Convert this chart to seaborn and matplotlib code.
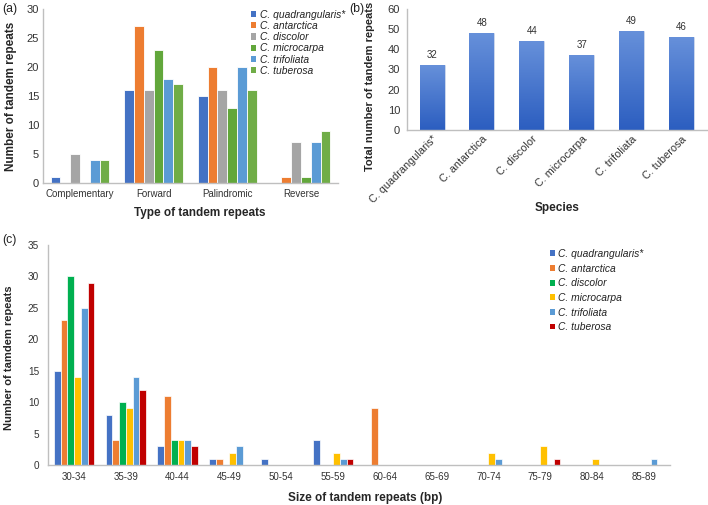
import pandas as pd
import numpy as np
import matplotlib
matplotlib.use('Agg')
import matplotlib.pyplot as plt
import seaborn as sns
from matplotlib.patches import Patch
from matplotlib.colors import LinearSegmentedColormap

# species names (same order in every panel)
species = ['C. quadrangularis*', 'C. antarctica', 'C. discolor',
           'C. microcarpa', 'C. trifoliata', 'C. tuberosa']

# panel (a): counts per repeat type, one value per species
repeat_types = ['Complementary', 'Forward', 'Palindromic', 'Reverse']
complementary = [1, 0, 5, 0, 4, 4]
forward = [16, 27, 16, 23, 18, 17]
palindromic = [15, 20, 16, 13, 20, 16]
reverse = [0, 1, 7, 1, 7, 9]

# panel (b): total repeats per species
totals = [32, 48, 44, 37, 49, 46]

# panel (c): counts per size class, one list per species
size_bins = ['30-34', '35-39', '40-44', '45-49', '50-54', '55-59',
             '60-64', '65-69', '70-74', '75-79', '80-84', '85-89']
quadrangularis_sizes = [15, 8, 3, 1, 1, 4, 0, 0, 0, 0, 0, 0]
antarctica_sizes = [23, 4, 11, 1, 0, 0, 9, 0, 0, 0, 0, 0]
discolor_sizes = [30, 10, 4, 0, 0, 0, 0, 0, 0, 0, 0, 0]
microcarpa_sizes = [14, 9, 4, 2, 0, 2, 0, 0, 2, 3, 1, 0]
trifoliata_sizes = [25, 14, 4, 3, 0, 1, 0, 0, 1, 0, 0, 1]
tuberosa_sizes = [29, 12, 3, 0, 0, 1, 0, 0, 0, 1, 0, 0]

colors_a = ['#4472C4', '#ED7D31', '#A5A5A5', '#62A73B', '#5B9BD5', '#70AD47']
colors_c = ['#4472C4', '#ED7D31', '#00B050', '#FFC000', '#5B9BD5', '#C00000']

sns.set_theme(style='white')
plt.rcParams['font.family'] = ['Liberation Sans', 'DejaVu Sans']
plt.rcParams['text.color'] = '#222222'
spine_col = '#BFBFBF'
tick_col = '#333333'

# long-format tables
rows = []
for t, vals in zip(repeat_types, [complementary, forward, palindromic, reverse]):
    for sp, v in zip(species, vals):
        rows.append({'type': t, 'species': sp, 'count': v})
df_a = pd.DataFrame(rows)

df_b = pd.DataFrame({'species': species, 'total': totals})

rows = []
size_lists = [quadrangularis_sizes, antarctica_sizes, discolor_sizes,
              microcarpa_sizes, trifoliata_sizes, tuberosa_sizes]
for sp, vals in zip(species, size_lists):
    for b, v in zip(size_bins, vals):
        rows.append({'size': b, 'species': sp, 'count': v})
df_c = pd.DataFrame(rows)

fig = plt.figure(figsize=(7.08, 5.05), dpi=100)


def style_axes(ax):
    sns.despine(ax=ax)
    for s in ['left', 'bottom']:
        ax.spines[s].set_color(spine_col)
        ax.spines[s].set_linewidth(1.0)
    ax.tick_params(axis='both', length=0, labelsize=7, colors=tick_col)


# ---- panel (a)
ax_a = fig.add_axes([0.061, 0.638, 0.416, 0.344])
sns.barplot(data=df_a, x='type', y='count', hue='species', order=repeat_types,
            hue_order=species, palette=colors_a, width=0.8, saturation=1,
            ax=ax_a, edgecolor='white', linewidth=0.6, legend=False)
style_axes(ax_a)
ax_a.set_ylim(0, 30)
ax_a.set_yticks(range(0, 31, 5))
ax_a.tick_params(axis='x', pad=4.5)
ax_a.tick_params(axis='y', pad=3, labelsize=8)
ax_a.set_xlabel('Type of tandem repeats', fontsize=8.5, fontweight='bold')
ax_a.set_ylabel('Number of tandem repeats', fontsize=8.5, fontweight='bold')
ax_a.xaxis.set_label_coords(0.53, -0.14)
ax_a.yaxis.set_label_coords(-0.09, 0.5)
handles = [Patch(facecolor=c, edgecolor='none') for c in colors_a]
ax_a.legend(handles, species, loc='upper left', bbox_to_anchor=(0.69, 1.02),
            frameon=False, prop={'style': 'italic', 'size': 7.4},
            handlelength=0.55, handleheight=0.55, handletextpad=0.35,
            labelspacing=0.12, borderaxespad=0)

# ---- panel (b)
ax_b = fig.add_axes([0.575, 0.743, 0.423, 0.239])
sns.barplot(data=df_b, x='species', y='total', order=species, color='#4472C4',
            width=0.5, saturation=1, ax=ax_b, edgecolor='#DCE4F2',
            linewidth=0.5)
style_axes(ax_b)
ax_b.set_ylim(0, 60)
ax_b.set_yticks(range(0, 61, 10))
ax_b.tick_params(axis='y', pad=5, labelsize=8)
ax_b.tick_params(axis='x', pad=3, labelsize=7.8)
grad = LinearSegmentedColormap.from_list('g', ['#2C5EC0', '#6690DA'])
gimg = np.linspace(0, 1, 100).reshape(-1, 1)
for p in ax_b.patches:
    x0, y0 = p.get_x(), p.get_y()
    w, h = p.get_width(), p.get_height()
    im = ax_b.imshow(gimg, cmap=grad, aspect='auto', origin='lower',
                     extent=[x0, x0 + w, y0, y0 + h], zorder=p.get_zorder() + 0.1)
    im.set_clip_path(p)
ax_b.set_xlim(-0.5, 5.5)
ax_b.set_ylim(0, 60)
for i, v in enumerate(totals):
    ax_b.text(i, v + 2.5, str(v), ha='center', va='bottom', fontsize=7,
              color=tick_col)
plt.setp(ax_b.get_xticklabels(), rotation=45, ha='right',
         rotation_mode='anchor')
ax_b.set_xlabel('Species', fontsize=8.5, fontweight='bold')
ax_b.set_ylabel('Total number of tandem repeats', fontsize=8,
                fontweight='bold')
ax_b.xaxis.set_label_coords(0.5, -0.6)
ax_b.yaxis.set_label_coords(-0.107, 0.36)

# ---- panel (c)
ax_c = fig.add_axes([0.068, 0.079, 0.878, 0.436])
sns.barplot(data=df_c, x='size', y='count', hue='species', order=size_bins,
            hue_order=species, palette=colors_c, width=0.78, saturation=1,
            ax=ax_c, edgecolor='white', linewidth=0.5, legend=False)
style_axes(ax_c)
ax_c.set_ylim(0, 35)
ax_c.set_yticks(range(0, 36, 5))
ax_c.tick_params(axis='x', pad=5)
ax_c.tick_params(axis='y', pad=6.5, labelsize=7.2)
ax_c.set_xlabel('Size of tandem repeats (bp)', fontsize=8.5, fontweight='bold')
ax_c.set_ylabel('Number of tamdem repeats', fontsize=8, fontweight='bold')
ax_c.xaxis.set_label_coords(0.51, -0.123)
ax_c.yaxis.set_label_coords(-0.055, 0.49)
handles = [Patch(facecolor=c, edgecolor='none') for c in colors_c]
ax_c.legend(handles, species, loc='upper left', bbox_to_anchor=(0.8, 1.0),
            frameon=False, prop={'style': 'italic', 'size': 7.4},
            handlelength=0.5, handleheight=0.5, handletextpad=0.35,
            labelspacing=0.45, borderaxespad=0)

# panel letters
fig.text(0.003, 0.982, '(a)', fontsize=8.8, va='center')
fig.text(0.493, 0.982, '(b)', fontsize=8.8, va='center')
fig.text(0.003, 0.525, '(c)', fontsize=8.8, va='center')

fig.savefig('out.png', dpi=100)
